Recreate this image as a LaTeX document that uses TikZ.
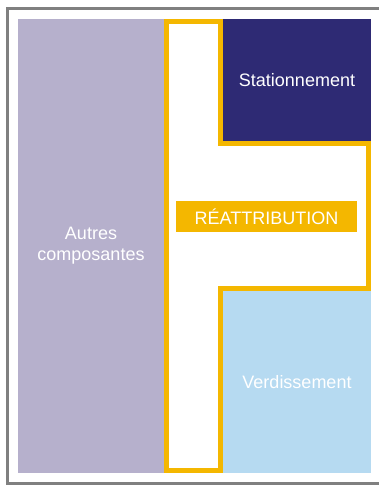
\documentclass[tikz,border=0pt]{standalone}
\usepackage{fontspec}
\setmainfont{Liberation Sans}
\definecolor{framegray}{RGB}{128,128,128}
\definecolor{lilac}{RGB}{182,176,204}
\definecolor{navy}{RGB}{46,42,116}
\definecolor{skyblue}{RGB}{182,218,241}
\definecolor{gold}{RGB}{244,183,0}
\begin{document}
\begin{tikzpicture}[x=1pt,y=-1pt,
  block/.style={rectangle, inner sep=0pt, outer sep=0pt, text=white, align=center, font=\fontsize{18}{21}\selectfont},
  outline/.style={draw=gold, line width=5pt, miter limit=10}]
\useasboundingbox (0,0) rectangle (379,485);
\clip (0,0) rectangle (379,485);
\draw[framegray, line width=3pt] (7.5,8.5) rectangle (400,483.5);
\node[block, fill=lilac, minimum width=146pt, minimum height=454pt] (autres) at (91,246) {Autres\\composantes};
\node[block, fill=navy, minimum width=148pt, minimum height=122pt] (stat) at (297,80) {Stationnement};
\node[block, fill=skyblue, minimum width=148pt, minimum height=182pt] (verd) at (297,382) {Verdissement};
\draw[outline] (166.5,21.5) -- (220.5,21.5) -- (220.5,143.5) -- (368.5,143.5) -- (368.5,288.5) -- (220.5,288.5) -- (220.5,470.5) -- (166.5,470.5) -- cycle;
\node[block, fill=gold, minimum width=181pt, minimum height=31pt] (reat) at (266.5,216.5) {RÉATTRIBUTION};
\end{tikzpicture}
\end{document}
